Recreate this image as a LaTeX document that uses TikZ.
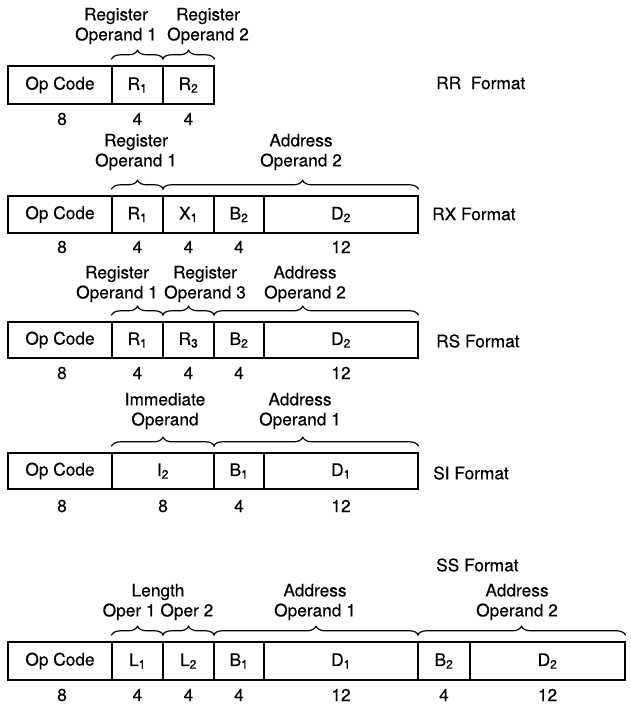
\documentclass[tikz,border=0pt]{standalone}
\usepackage{fontspec}
\setmainfont[FakeBold=0.4]{TeX Gyre Heros}
\usetikzlibrary{decorations.pathreplacing}
\newcommand\fs{\fontsize{17.3}{20}\selectfont}
\newcommand\fieldbox[6]{\node[fld, minimum width={(#3-#2)*1pt}, minimum height={(#5-#4)*1pt}] (#1) at ({(#2+#3)/2},{(#4+#5)/2}) {#6};}
\tikzset{
  fld/.style={draw, line width=1.4pt, inner sep=0pt, font=\fs},
  num/.style={font=\fs, inner sep=0pt},
  lbl/.style={font=\fs, align=center, inner sep=0pt},
  fmt/.style={font=\fs, inner sep=0pt, anchor=west},
  brc/.style={decorate, decoration={brace, amplitude=9pt, aspect=#1}, line width=1.2pt},
  brc/.default=0.5
}
\begin{document}
\begin{tikzpicture}[x=1pt,y=-1pt]
\useasboundingbox (0,0) rectangle (630,708);
% ---------- RR ----------
\fieldbox{rrop}{8}{112}{66}{104}{Op Code}
\fieldbox{rrra}{112}{163}{66}{104}{R\textsubscript{1}}
\fieldbox{rrrb}{163}{214}{66}{104}{R\textsubscript{2}}
\node[num] (rrn1) at (62,119) {8};
\node[num] (rrn2) at (137.5,119) {4};
\node[num] (rrn3) at (188.5,119) {4};
\draw[brc] ([yshift=6pt]rrra.north west) -- ([yshift=6pt]rrra.north east);
\draw[brc] ([yshift=6pt]rrrb.north west) -- ([yshift=6pt]rrrb.north east);
\node[lbl] (rrl1) at (116,26) {Register\\Operand 1};
\node[lbl] (rrl2) at (208,26) {Register\\Operand 2};
\node[fmt] (rrf) at (436,83) {RR\ \ Format};
% ---------- RX ----------
\fieldbox{rxop}{8}{112}{196}{233}{Op Code}
\fieldbox{rxra}{112}{163}{196}{233}{R\textsubscript{1}}
\fieldbox{rxxa}{163}{214}{196}{233}{X\textsubscript{1}}
\fieldbox{rxbb}{214}{264}{196}{233}{B\textsubscript{2}}
\fieldbox{rxdb}{264}{418}{196}{233}{D\textsubscript{2}}
\node[num] (rxn1) at (62,247) {8};
\node[num] (rxn2) at (137.5,247) {4};
\node[num] (rxn3) at (188.5,247) {4};
\node[num] (rxn4) at (239,247) {4};
\node[num] (rxn5) at (341,247) {12};
\draw[brc] ([yshift=6pt]rxra.north west) -- ([yshift=6pt]rxra.north east);
\draw[brc=0.547] ([yshift=6pt]rxxa.north west) -- ([yshift=6pt]rxdb.north east);
\node[lbl] (rxl1) at (136,152) {Register\\Operand 1};
\node[lbl] (rxl2) at (301,152) {Address\\Operand 2};
\node[fmt] (rxf) at (432,214) {RX Format};
% ---------- RS ----------
\fieldbox{rsop}{8}{112}{322}{358}{Op Code}
\fieldbox{rsra}{112}{163}{322}{358}{R\textsubscript{1}}
\fieldbox{rsrc}{163}{214}{322}{358}{R\textsubscript{3}}
\fieldbox{rsbb}{214}{264}{322}{358}{B\textsubscript{2}}
\fieldbox{rsdb}{264}{418}{322}{358}{D\textsubscript{2}}
\node[num] (rsn1) at (62,373) {8};
\node[num] (rsn2) at (137.5,373) {4};
\node[num] (rsn3) at (188.5,373) {4};
\node[num] (rsn4) at (239,373) {4};
\node[num] (rsn5) at (341,373) {12};
\draw[brc] ([yshift=6pt]rsra.north west) -- ([yshift=6pt]rsra.north east);
\draw[brc] ([yshift=6pt]rsrc.north west) -- ([yshift=6pt]rsrc.north east);
\draw[brc=0.436] ([yshift=6pt]rsbb.north west) -- ([yshift=6pt]rsdb.north east);
\node[lbl] (rsl1) at (117,284) {Register\\Operand 1};
\node[lbl] (rsl2) at (205,284) {Register\\Operand 3};
\node[lbl] (rsl3) at (305,284) {Address\\Operand 2};
\node[fmt] (rsf) at (436,341) {RS Format};
% ---------- SI ----------
\fieldbox{siop}{8}{112}{453}{489}{Op Code}
\fieldbox{siib}{112}{214}{453}{489}{I\textsubscript{2}}
\fieldbox{siba}{214}{264}{453}{489}{B\textsubscript{1}}
\fieldbox{sida}{264}{418}{453}{489}{D\textsubscript{1}}
\node[num] (sin1) at (62,506) {8};
\node[num] (sin2) at (163,506) {8};
\node[num] (sin3) at (239,506) {4};
\node[num] (sin4) at (341,506) {12};
\draw[brc] ([yshift=6pt]siib.north west) -- ([yshift=6pt]siib.north east);
\draw[brc=0.436] ([yshift=6pt]siba.north west) -- ([yshift=6pt]sida.north east);
\node[lbl] (sil1) at (165,411) {Immediate\\Operand};
\node[lbl] (sil2) at (300,411) {Address\\Operand 1};
\node[fmt] (sif) at (433,473) {SI Format};
% ---------- SS ----------
\node[fmt] (ssf) at (436,565) {SS Format};
\fieldbox{ssop}{8}{112}{642}{680}{Op Code}
\fieldbox{ssla}{112}{163}{642}{680}{L\textsubscript{1}}
\fieldbox{sslb}{163}{214}{642}{680}{L\textsubscript{2}}
\fieldbox{ssba}{214}{264}{642}{680}{B\textsubscript{1}}
\fieldbox{ssda}{264}{418}{642}{680}{D\textsubscript{1}}
\fieldbox{ssbb}{418}{470}{642}{680}{B\textsubscript{2}}
\fieldbox{ssdb}{470}{625}{642}{680}{D\textsubscript{2}}
\node[num] (ssn1) at (62,695) {8};
\node[num] (ssn2) at (137.5,695) {4};
\node[num] (ssn3) at (188.5,695) {4};
\node[num] (ssn4) at (239,695) {4};
\node[num] (ssn5) at (341,695) {12};
\node[num] (ssn6) at (444,695) {4};
\node[num] (ssn7) at (547.5,695) {12};
\draw[brc] ([yshift=6pt]ssla.north west) -- ([yshift=6pt]ssla.north east);
\draw[brc] ([yshift=6pt]sslb.north west) -- ([yshift=6pt]sslb.north east);
\draw[brc] ([yshift=6pt]ssba.north west) -- ([yshift=6pt]ssda.north east);
\draw[brc] ([yshift=6pt]ssbb.north west) -- ([yshift=6pt]ssdb.north east);
\node[lbl] (ssl1) at (158,602) {Length\\Oper 1 Oper 2};
\node[lbl] (ssl2) at (315,602) {Address\\Operand 1};
\node[lbl] (ssl3) at (517,602) {Address\\Operand 2};
\end{tikzpicture}
\end{document}
